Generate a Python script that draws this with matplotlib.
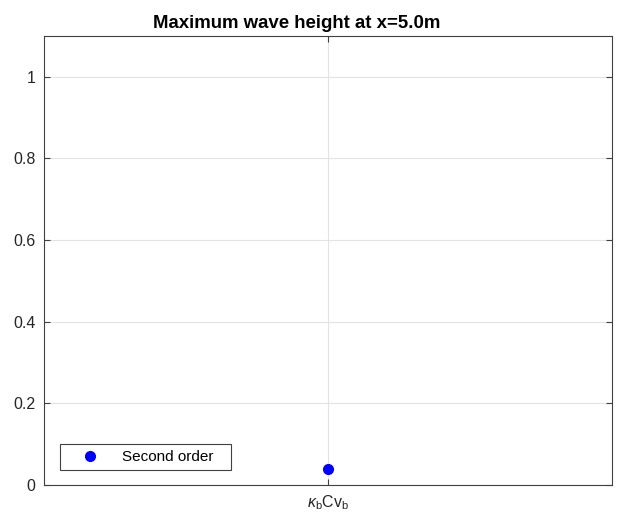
import matplotlib
matplotlib.use("Agg")
import matplotlib.pyplot as plt

plt.rcParams["font.family"] = ["Liberation Sans", "DejaVu Sans"]
plt.rcParams["mathtext.fontset"] = "custom"
plt.rcParams["mathtext.rm"] = "Liberation Sans"
plt.rcParams["mathtext.it"] = "Liberation Sans:italic"

# data
categories = [r"$\kappa_{\rm b}$Cv$_{\rm b}$"]
x_pos = [1]
second_order = [0.038]
y_ticks = [0, 0.2, 0.4, 0.6, 0.8, 1.0]
y_labels = ["0", "0.2", "0.4", "0.6", "0.8", "1"]

fig = plt.figure(figsize=(6.26, 5.18), dpi=100)
ax = fig.add_axes([0.0703, 0.0637, 0.9073, 0.8668])

ax.plot(
    x_pos,
    second_order,
    "o",
    color="#0000ff",
    markersize=7,
    label="Second order",
    zorder=3
)

ax.set_xlim(0.5, 1.5)
ax.set_ylim(0, 1.1)
ax.set_xticks(x_pos)
ax.set_xticklabels(categories, fontsize=13.5)
ax.set_yticks(y_ticks)
ax.set_yticklabels(y_labels)

ax.grid(True, color="#e3e3e3", linewidth=0.8)
ax.set_axisbelow(True)

ax.tick_params(
    direction="in",
    top=True,
    right=True,
    length=4,
    width=0.8,
    pad=6,
    color="#404040",
    labelsize=11.5,
    labelcolor="#262626"
)
for s in ax.spines.values():
    s.set_color("#404040")
    s.set_linewidth(0.8)

# title sits a little left of the axes centre, as in the original
fig.text(
    297 / 626,
    1 - 28 / 518,
    "Maximum wave height at x=5.0m",
    fontsize=13.4,
    fontweight="bold",
    ha="center",
    va="baseline"
)

leg = ax.legend(
    loc="lower left",
    bbox_to_anchor=(0.028, 0.033, 0.301, 0.06),
    mode="expand",
    borderaxespad=0,
    fancybox=False,
    framealpha=1,
    edgecolor="#404040",
    fontsize=11,
    handletextpad=0.45,
    borderpad=0.4,
    handlelength=3.2
)
leg.get_frame().set_linewidth(0.8)

fig.savefig("out.png", dpi=100)
plt.close(fig)
